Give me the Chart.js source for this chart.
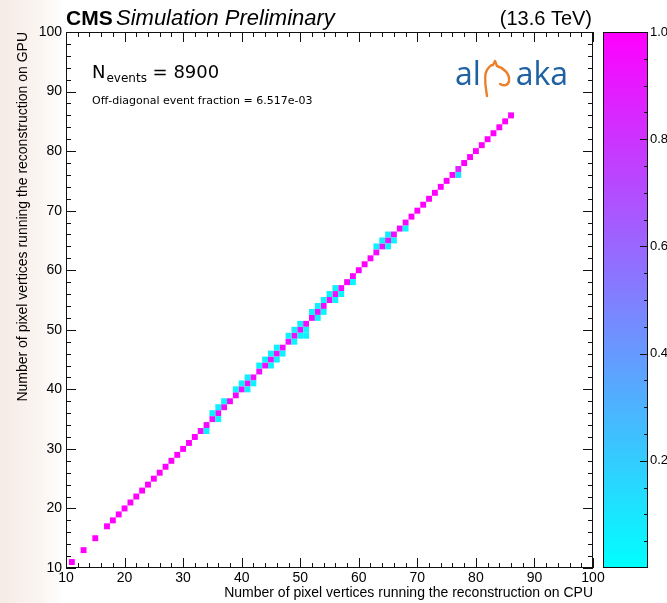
<!DOCTYPE html>
<html>
<head>
<meta charset="utf-8">
<title>Pixel vertices: CPU vs GPU</title>
<script src="https://cdn.jsdelivr.net/npm/chart.js@4.4.1/dist/chart.umd.min.js"></script>
<style>
  html, body { margin: 0; padding: 0; }
  body {
    width: 667px; height: 603px; overflow: hidden;
    background: linear-gradient(to right, #f6ebe5 0px, #faf4f0 38px, #ffffff 64px);
  }
  canvas { display: block; }
</style>
</head>
<body>
<canvas id="vtxChart" width="667" height="603"></canvas>
<script>
// Diagonal bins (CPU == GPU), normalised content per bin
const diagX = [11, 13, 15, 17, 18, 19,
  20, 21, 22, 23, 24, 25, 26, 27, 28, 29,
  30, 31, 32, 33, 34, 35, 36, 37, 38, 39,
  40, 41, 42, 43, 44, 45, 46, 47, 48, 49,
  50, 51, 52, 53, 54, 55, 56, 57, 58, 59,
  60, 61, 62, 63, 64, 65, 66, 67, 68, 69,
  70, 71, 72, 73, 74, 75, 76, 77, 78, 79,
  80, 81, 82, 83, 84, 85, 86];
const diagZ = [1, 1, 1, 1, 1, 1,
  1, 1, 1, 1, 1, 1, 1, 1, 1, 1,
  1, 1, 1, 0.96, 0.95, 0.94, 0.93, 0.95, 0.96, 0.96,
  0.94, 0.93, 0.95, 0.95, 0.94, 0.92, 0.93, 0.95, 0.94, 0.93,
  0.93, 0.95, 0.95, 0.93, 0.94, 0.95, 0.93, 0.96, 0.98, 0.97,
  1, 1, 1, 0.95, 0.94, 0.93, 0.95, 0.97, 0.97, 1,
  1, 1, 1, 1, 1, 1, 1, 0.86, 1, 1,
  1, 1, 1, 1, 1, 1, 1];

// Off-diagonal bins (CPU != GPU)
const offX = [34, 35, 36, 36, 37, 39, 40, 41, 41, 42,
  43, 44, 45, 45, 46, 46, 47, 48, 49, 49,
  50, 50, 51, 51, 52, 53, 53, 54, 54, 55,
  56, 56, 57, 59, 63, 64, 65, 65, 66, 68, 77];
const offY = [33, 36, 37, 35, 38, 40, 41, 42, 40, 41,
  44, 45, 46, 44, 47, 45, 46, 49, 50, 48,
  51, 49, 50, 49, 53, 54, 52, 55, 53, 56,
  57, 55, 56, 58, 64, 65, 66, 64, 65, 67, 76];
const offZ = [0.05, 0.06, 0.07, 0.04, 0.05, 0.04, 0.06, 0.07, 0.05, 0.05,
  0.05, 0.06, 0.07, 0.05, 0.06, 0.05, 0.05, 0.06, 0.07, 0.04,
  0.06, 0.05, 0.05, 0.04, 0.05, 0.06, 0.05, 0.05, 0.04, 0.05,
  0.06, 0.04, 0.04, 0.03, 0.05, 0.06, 0.06, 0.05, 0.05, 0.03, 0.12];

const axisTicks = [10, 20, 30, 40, 50, 60, 70, 80, 90, 100];
const colorTicks = [0.2, 0.4, 0.6, 0.8, 1.0];

const xTitle = 'Number of pixel vertices running the reconstruction on CPU';
const yTitle = 'Number of pixel vertices running the reconstruction on GPU';
const nEvents = 8900;
const offDiagFraction = '6.517e-03';

const SANS = '"Liberation Sans", Arial, Helvetica, sans-serif';
const DEJAVU = '"DejaVu Sans", Verdana, sans-serif';

// cyan -> magenta palette
function coolColor(v) {
  const t = Math.max(0, Math.min(1, v));
  return 'rgb(' + Math.round(255 * t) + ',' + Math.round(255 * (1 - t)) + ',255)';
}

const histPlugin = {
  id: 'hist2d',
  beforeDatasetsDraw(chart) {
    const { ctx, chartArea: a, scales: { x, y } } = chart;
    ctx.save();
    ctx.fillStyle = '#ffffff';
    ctx.fillRect(a.left, a.top, a.right - a.left, a.bottom - a.top);
    chart.data.datasets.forEach(ds => {
      ds.data.forEach(p => {
        const x0 = x.getPixelForValue(p.x - 0.5);
        const x1 = x.getPixelForValue(p.x + 0.5);
        const y0 = y.getPixelForValue(p.y + 0.5);
        const y1 = y.getPixelForValue(p.y - 0.5);
        ctx.fillStyle = coolColor(p.v);
        ctx.fillRect(x0, y0, x1 - x0, y1 - y0);
      });
    });
    ctx.restore();
  },
  afterDatasetsDraw(chart) {
    const { ctx, chartArea: a, scales: { x, y, z } } = chart;
    ctx.save();
    ctx.strokeStyle = '#111';
    ctx.lineWidth = 1;
    ctx.strokeRect(a.left + 0.5, a.top + 0.5, a.right - a.left - 1, a.bottom - a.top - 1);

    // inward ticks on all four sides, minor every 2
    ctx.beginPath();
    for (let v = 10; v <= 100; v += 2) {
      const len = v % 10 === 0 ? 10 : 5;
      const px = Math.round(x.getPixelForValue(v)) + 0.5;
      ctx.moveTo(px, a.bottom); ctx.lineTo(px, a.bottom - len);
      ctx.moveTo(px, a.top); ctx.lineTo(px, a.top + len);
      const py = Math.round(y.getPixelForValue(v)) + 0.5;
      ctx.moveTo(a.left, py); ctx.lineTo(a.left + len, py);
      ctx.moveTo(a.right, py); ctx.lineTo(a.right - len, py);
    }
    ctx.stroke();

    // colour bar
    const bx0 = a.right + 10, bx1 = a.right + 55;
    const top = z.getPixelForValue(1), bot = z.getPixelForValue(0);
    const grad = ctx.createLinearGradient(0, bot, 0, top);
    grad.addColorStop(0, coolColor(0));
    grad.addColorStop(0.5, coolColor(0.5));
    grad.addColorStop(1, coolColor(1));
    ctx.fillStyle = grad;
    ctx.fillRect(bx0, top, bx1 - bx0, bot - top);
    ctx.strokeStyle = '#111';
    ctx.strokeRect(bx0 + 0.5, top + 0.5, bx1 - bx0 - 1, bot - top - 1);
    ctx.beginPath();
    for (let i = 1; i < 20; i++) {
      const v = i / 20;
      const len = i % 4 === 0 ? 8 : 4;
      const py = Math.round(z.getPixelForValue(v)) + 0.5;
      ctx.moveTo(bx1, py); ctx.lineTo(bx1 - len, py);
    }
    ctx.stroke();
    ctx.restore();
  },
  afterDraw(chart) {
    const { ctx } = chart;
    ctx.save();
    ctx.fillStyle = '#000';
    ctx.textBaseline = 'alphabetic';

    // header
    ctx.font = 'bold 21px ' + SANS;
    ctx.fillText('CMS', 66, 25);
    ctx.font = 'italic 22px ' + SANS;
    ctx.fillText('Simulation Preliminary', 116, 25);
    ctx.font = '20px ' + SANS;
    ctx.textAlign = 'right';
    ctx.fillText('(13.6 TeV)', 592, 25);
    ctx.textAlign = 'left';

    // event count
    let tx = 92;
    ctx.font = '18px ' + DEJAVU;
    ctx.fillText('N', tx, 78);
    tx += ctx.measureText('N').width + 1;
    ctx.font = '12px ' + DEJAVU;
    ctx.fillText('events', tx, 82);
    tx += ctx.measureText('events').width;
    ctx.font = '18px ' + DEJAVU;
    ctx.fillText(' = ' + nEvents, tx, 78);

    ctx.font = '11px ' + DEJAVU;
    ctx.fillText('Off-diagonal event fraction = ' + offDiagFraction, 92, 104);

    // alpaka logo
    ctx.fillStyle = '#1f62a3';
    ctx.font = '32px "Open Sans", Lato, sans-serif';
    ctx.fillText('al', 455, 85);
    ctx.textAlign = 'right';
    ctx.fillText('aka', 568, 85);
    ctx.strokeStyle = '#ec7f2a';
    ctx.lineWidth = 2.4;
    ctx.lineCap = 'round';
    ctx.lineJoin = 'round';
    ctx.beginPath();
    ctx.moveTo(487, 96);
    ctx.bezierCurveTo(486, 88, 483, 76, 487, 70);
    ctx.quadraticCurveTo(490, 65, 493, 65);
    ctx.lineTo(495, 61);
    ctx.lineTo(497, 66);
    ctx.bezierCurveTo(504, 68, 510, 74, 509, 81);
    ctx.bezierCurveTo(508, 86, 503, 86, 500, 84);
    ctx.stroke();
    ctx.restore();
  }
};

const ctx = document.getElementById('vtxChart').getContext('2d');
const vtxChart = new Chart(ctx, {
  type: 'scatter',
  data: {
    datasets: [
      { label: 'CPU = GPU', data: diagX.map((v, i) => ({ x: v, y: v, v: diagZ[i] })) },
      { label: 'CPU != GPU', data: offX.map((v, i) => ({ x: v, y: offY[i], v: offZ[i] })) }
    ]
  },
  options: {
    responsive: false,
    animation: false,
    layout: { padding: { top: 32, left: 0, right: 0, bottom: 0 } },
    elements: { point: { radius: 0, hoverRadius: 0 } },
    plugins: { legend: { display: false }, tooltip: { enabled: false } },
    scales: {
      x: {
        type: 'linear', min: 10, max: 100,
        afterBuildTicks: s => { s.ticks = axisTicks.map(v => ({ value: v })); },
        afterFit: s => { s.height = 35; },
        grid: { display: false, drawTicks: false },
        border: { display: false },
        ticks: { font: { family: SANS, size: 14 }, color: '#000', padding: 2, maxRotation: 0, autoSkip: false },
        title: { display: true, text: xTitle, align: 'end', color: '#000',
                 font: { family: SANS, size: 14 }, padding: { top: 0, bottom: 1 } }
      },
      y: {
        type: 'linear', min: 10, max: 100,
        afterBuildTicks: s => { s.ticks = axisTicks.map(v => ({ value: v })); },
        afterFit: s => { s.width = 66; },
        grid: { display: false, drawTicks: false },
        border: { display: false },
        ticks: { font: { family: SANS, size: 14 }, color: '#000', padding: 4, autoSkip: false },
        title: { display: true, text: yTitle, align: 'end', color: '#000',
                 font: { family: SANS, size: 14 }, padding: { top: 15, bottom: 0 } }
      },
      z: {
        type: 'linear', position: 'right', min: 0, max: 1,
        afterBuildTicks: s => { s.ticks = colorTicks.map(v => ({ value: v })); },
        afterFit: s => { s.width = 74; },
        grid: { drawOnChartArea: false, drawTicks: true, tickLength: 55, color: 'rgba(0,0,0,0)' },
        border: { display: false },
        ticks: { font: { family: SANS, size: 13 }, color: '#000', padding: 2,
                 callback: v => v.toFixed(1) }
      }
    }
  },
  plugins: [histPlugin]
});
</script>
</body>
</html>
